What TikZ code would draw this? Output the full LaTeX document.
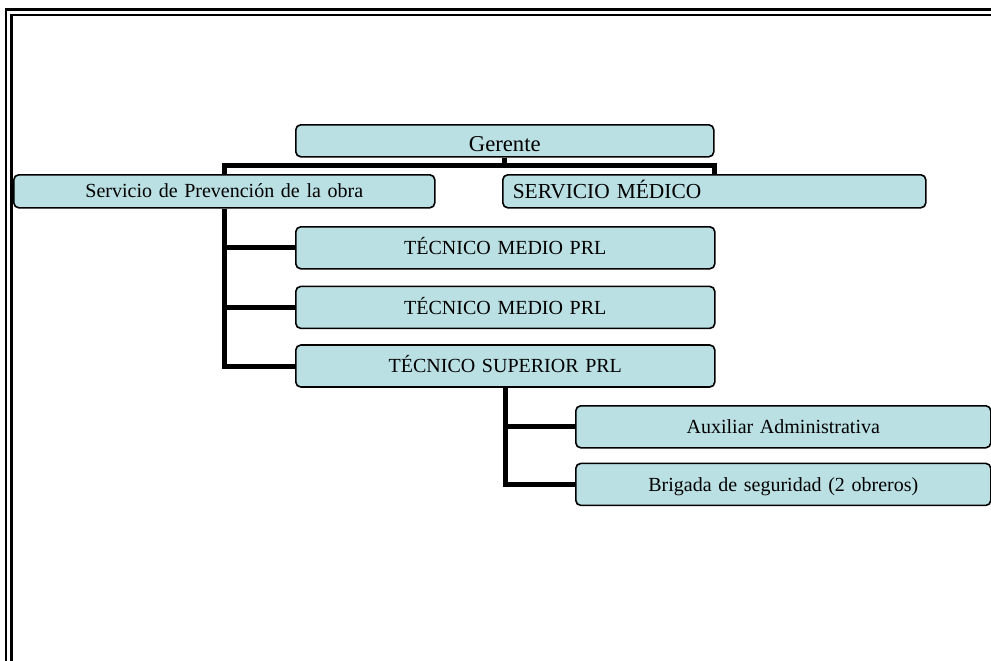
\documentclass[tikz,border=0pt]{standalone}
\usepackage{fontspec}
\setmainfont{Liberation Serif}
\usetikzlibrary{calc, positioning}
\definecolor{orgfill}{HTML}{BBE0E3}
\tikzset{
	orgbox/.style={draw=black, fill=orgfill, line width=1.6pt, rounded corners=5pt, inner xsep=0pt, inner ysep=0pt, align=center, text height=13.2pt, text depth=0pt, font=\fontsize{20}{24}\selectfont},
	orgline/.style={line width=5pt},
	frameline/.style={line width=2.3pt}
}

\begin{document}
\begin{tikzpicture}[x=1pt, y=-1pt]
	\useasboundingbox (0,0) rectangle (991,661);
	\draw[frameline] (6,661) -- (6,9.5) -- (991,9.5);
	\draw[frameline] (11.5,661) -- (11.5,14.7) -- (991,14.7);
	\node[orgbox, anchor=north west, text width=418pt, minimum height=32pt, text height=22pt, font=\fontsize{22.7}{26}\selectfont] (G) at (295,124) {Gerente};
	\node[orgbox, anchor=north west, text width=421pt, minimum height=33pt] (SP) at (13,174) {Servicio de Prevenci\'on de la obra};
	\node[orgbox, anchor=north west, text width=403pt, inner xsep=10pt, align=left, minimum height=33pt, text height=14.2pt, font=\fontsize{21.4}{25}\selectfont] (SM) at (502,174) {SERVICIO M\'EDICO};
	\node[orgbox, anchor=north west, text width=419pt, minimum height=42pt] (TM1) at (295,226) {T\'ECNICO MEDIO PRL};
	\node[orgbox, text width=419pt, minimum height=42pt] (TM2) [below=16pt of TM1] {T\'ECNICO MEDIO PRL};
	\node[orgbox, text width=419pt, minimum height=42pt] (TS) [below=15pt of TM2] {T\'ECNICO SUPERIOR PRL};
	\node[orgbox, anchor=north west, text width=415pt, minimum height=42pt] (AA) at (575,405) {Auxiliar Administrativa};
	\node[orgbox, text width=415pt, minimum height=42pt] (BS) [below=14pt of AA] {Brigada de seguridad (2 obreros)};
	\coordinate (gj) at ($(G.south)+(0,8)$);
	\draw[orgline] (G.south) -- (gj);
	\draw[orgline] (SP.north) |- (gj) -| (SM.north);
	\draw[orgline] (SP.south) |- (TS.west);
	\draw[orgline] (SP.south |- TM1.west) -- (TM1.west);
	\draw[orgline] (SP.south |- TM2.west) -- (TM2.west);
	\draw[orgline] (TS.south) |- (BS.west);
	\draw[orgline] (TS.south |- AA.west) -- (AA.west);
\end{tikzpicture}
\end{document}
